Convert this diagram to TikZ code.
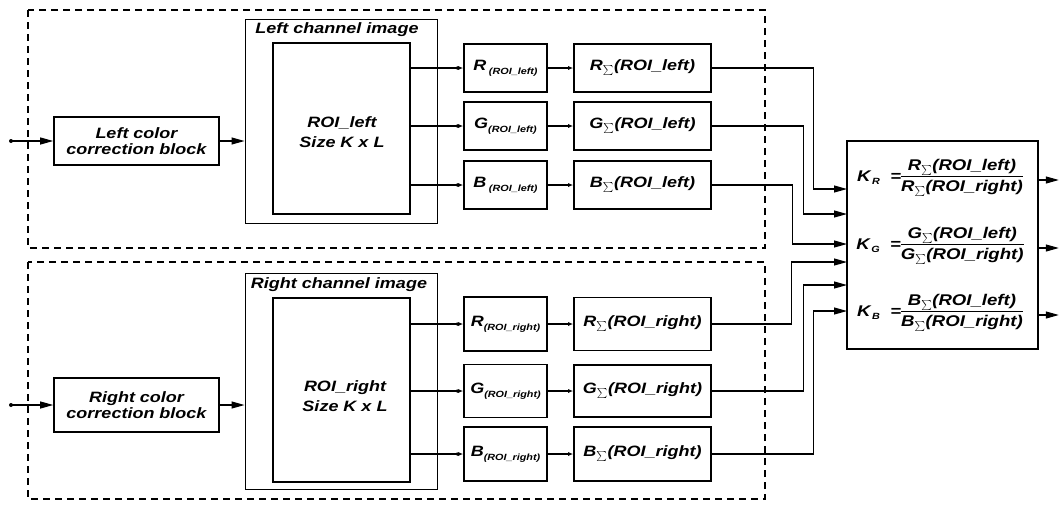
\documentclass[tikz,border=0pt]{standalone}
\usepackage{fontspec}
\setmainfont[FakeStretch=1.2]{Liberation Sans}
\usetikzlibrary{arrows.meta}

\newcommand{\sig}{$_{\sum}$}
\newcommand{\chan}[2]{#1\raisebox{-0.5ex}{\fontsize{9}{9}\selectfont(ROI\_#2)}}
\newcommand{\ratio}[2]{\begin{tabular}[c]{@{}c@{}}#1\\[1pt]\hline\rule{0pt}{15pt}#2\end{tabular}}

\begin{document}
\begin{tikzpicture}[
  x=1pt, y=-1pt,
  every node/.style={font=\fontsize{15}{15.5}\selectfont\bfseries\itshape},
  blk/.style={draw, line width=1.6pt, inner sep=0pt, align=center},
  frame/.style={draw, line width=1pt},
  group/.style={draw, line width=1.2pt, dash pattern=on 7pt off 5pt},
  wire/.style={line width=1.1pt},
  bigarrow/.style={wire, -{Triangle[length=13pt,width=7pt]}},
  smallarrow/.style={wire, -{Latex[length=5pt,width=4pt]}}]
\useasboundingbox (0,0) rectangle (1062,504);

% dashed groups
\draw[group] (28,10) rectangle (765,248);
\draw[group] (28,262) rectangle (765,499);

% left channel
\node[blk, minimum width=165pt, minimum height=48pt] (lcc) at (136.5,141) {Left color\\correction block};
\node[frame, minimum width=192pt, minimum height=204pt] (limg) at (341,121) {};
\node (ltitle) at (337,30) {Left channel image};
\node[blk, minimum width=137pt, minimum height=171pt] (lroi) at (341.5,128.5) {};
\node[align=center] (ltxt) at (342,132) {ROI\_left\\[5pt]Size K x L};
\node[blk, minimum width=83pt, minimum height=48pt] (lR) at (505.5,68) {\chan{R\,}{left}};
\node[blk, minimum width=83pt, minimum height=48pt] (lG) at (505.5,126) {\chan{G}{left}};
\node[blk, minimum width=83pt, minimum height=48pt] (lB) at (505.5,185) {\chan{B\,}{left}};
\node[blk, minimum width=137pt, minimum height=48pt] (lsR) at (642.5,68) {R\sig(ROI\_left)};
\node[blk, minimum width=137pt, minimum height=48pt] (lsG) at (642.5,126) {G\sig(ROI\_left)};
\node[blk, minimum width=137pt, minimum height=48pt] (lsB) at (642.5,185) {B\sig(ROI\_left)};

% right channel
\node[blk, minimum width=165pt, minimum height=54pt] (rcc) at (136.5,405) {Right color\\correction block};
\node[frame, minimum width=192pt, minimum height=216pt] (rimg) at (341,381) {};
\node (rtitle) at (339,285) {Right channel image};
\node[blk, minimum width=137pt, minimum height=184pt] (rroi) at (341.5,390) {};
\node[align=center] (rtxt) at (345,396) {ROI\_right\\[5pt]Size K x L};
\node[blk, minimum width=83pt, minimum height=54pt] (rR) at (505.5,324) {\chan{R}{right}};
\node[blk, minimum width=83pt, minimum height=53pt] (rG) at (505.5,391) {\chan{G}{right}};
\node[blk, minimum width=83pt, minimum height=54pt] (rB) at (505.5,454) {\chan{B}{right}};
\node[blk, minimum width=137pt, minimum height=53pt] (rsR) at (642.5,324) {R\sig(ROI\_right)};
\node[blk, minimum width=137pt, minimum height=52pt] (rsG) at (642.5,391) {G\sig(ROI\_right)};
\node[blk, minimum width=137pt, minimum height=54pt] (rsB) at (642.5,454) {B\sig(ROI\_right)};

% ratio block
\node[blk, minimum width=191pt, minimum height=208pt] (kbox) at (942.5,245) {};
\node[inner sep=0pt, font=\fontsize{15.5}{16}\selectfont\bfseries\itshape] (kR) at (940,178)
  {K\raisebox{-0.3ex}{\fontsize{9}{9}\selectfont\,R}\ \ =\ratio{R\sig(ROI\_left)}{R\sig(ROI\_right)}};
\node[inner sep=0pt, font=\fontsize{15.5}{16}\selectfont\bfseries\itshape] (kG) at (940,246)
  {K\raisebox{-0.3ex}{\fontsize{9}{9}\selectfont\,G}\ \ =\ratio{G\sig(ROI\_left)}{G\sig(ROI\_right)}};
\node[inner sep=0pt, font=\fontsize{15.5}{16}\selectfont\bfseries\itshape] (kB) at (940,313)
  {K\raisebox{-0.3ex}{\fontsize{9}{9}\selectfont\,B}\ \ =\ratio{B\sig(ROI\_left)}{B\sig(ROI\_right)}};
\foreach \n/\y in {1/189,2/214,3/244,4/262,5/285,6/311}
  \coordinate (k\n) at (847,\y);

% inputs
\coordinate (lin) at (11,141);
\coordinate (rin) at (11,405);
\fill (lin) circle (2pt);
\fill (rin) circle (2pt);
\draw[bigarrow] (lin) -- (lcc.west);
\draw[bigarrow] (rin) -- (rcc.west);
\draw[bigarrow] (lcc.east) -- (lcc.east -| limg.west);
\draw[bigarrow] (rcc.east) -- (rcc.east -| rimg.west);

% roi to channels to sums
\foreach \s in {l,r}
  \foreach \c in {R,G,B} {
    \draw[wire] (\s roi.east |- \s\c) -- ([xshift=-6pt]\s\c.west);
    \fill ([xshift=-6pt]\s\c.west) circle (1.8pt);
    \draw[smallarrow] ([xshift=-6pt]\s\c.west) -- (\s\c.west);
    \draw[smallarrow] (\s\c) -- (\s s\c);
  }

% sums to ratio block
\draw[bigarrow] (lsR.east) -- ++(102,0) |- (k1);
\draw[bigarrow] (lsG.east) -- ++(92,0) |- (k2);
\draw[bigarrow] (lsB.east) -- ++(81,0) |- (k3);
\draw[bigarrow] (rsR.east) -- ++(80,0) |- (k4);
\draw[bigarrow] (rsG.east) -- ++(92,0) |- (k5);
\draw[bigarrow] (rsB.east) -- ++(102,0) |- (k6);

% outputs
\draw[bigarrow] (kbox.east |- 0,180) -- ++(20,0);
\draw[bigarrow] (kbox.east |- 0,248) -- ++(20,0);
\draw[bigarrow] (kbox.east |- 0,315) -- ++(20,0);
\end{tikzpicture}
\end{document}
